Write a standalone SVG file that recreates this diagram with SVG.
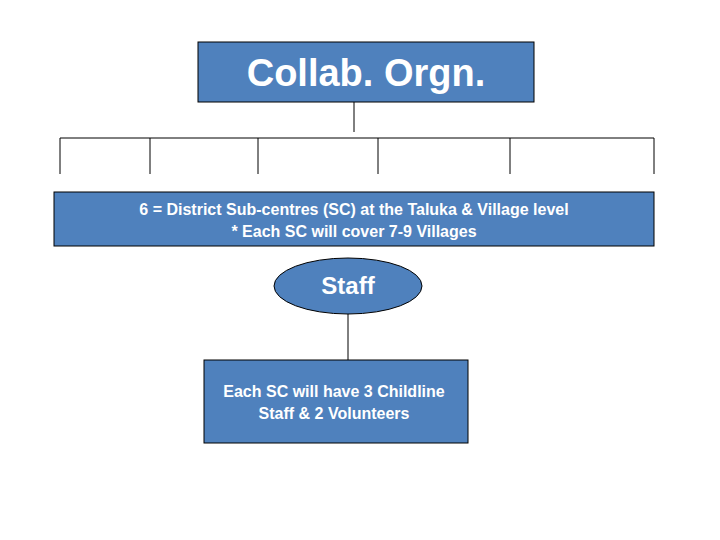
<svg xmlns="http://www.w3.org/2000/svg" width="720" height="540" viewBox="0 0 720 540">
<style>
.n{fill:#4F81BD;stroke:#000;stroke-width:1}
.c{stroke:#000;stroke-width:1;fill:none}
text{font-family:"Liberation Sans",Arial,sans-serif;fill:#fff;text-anchor:middle;font-weight:bold}
</style>
<rect width="720" height="540" fill="#fff"/>
<g id="connectors">
<path class="c" d="M354 102V132M60 138H654M60 138V174M150 138V174M258 138V174M378 138V174M510 138V174M654 138V174M348 314V360"/>
</g>
<g id="collab"><rect class="n" x="198" y="42" width="336" height="60"/><text x="366" y="86" font-size="38" font-weight="normal" style="font-weight:bold">Collab. Orgn.</text></g>
<g id="district"><rect class="n" x="54" y="192" width="600" height="54"/><text x="354" y="215" font-size="16">6 = District Sub-centres (SC) at the Taluka &amp; Village level</text><text x="354" y="237" font-size="16">* Each SC will cover 7-9 Villages</text></g>
<g id="staff"><ellipse class="n" cx="348" cy="286" rx="74" ry="28"/><text x="348" y="294" font-size="24">Staff</text></g>
<g id="each"><rect class="n" x="204" y="360" width="264" height="83"/><text x="334" y="397" font-size="16">Each SC will have 3 Childline</text><text x="334" y="419" font-size="16">Staff &amp; 2 Volunteers</text></g>
</svg>
